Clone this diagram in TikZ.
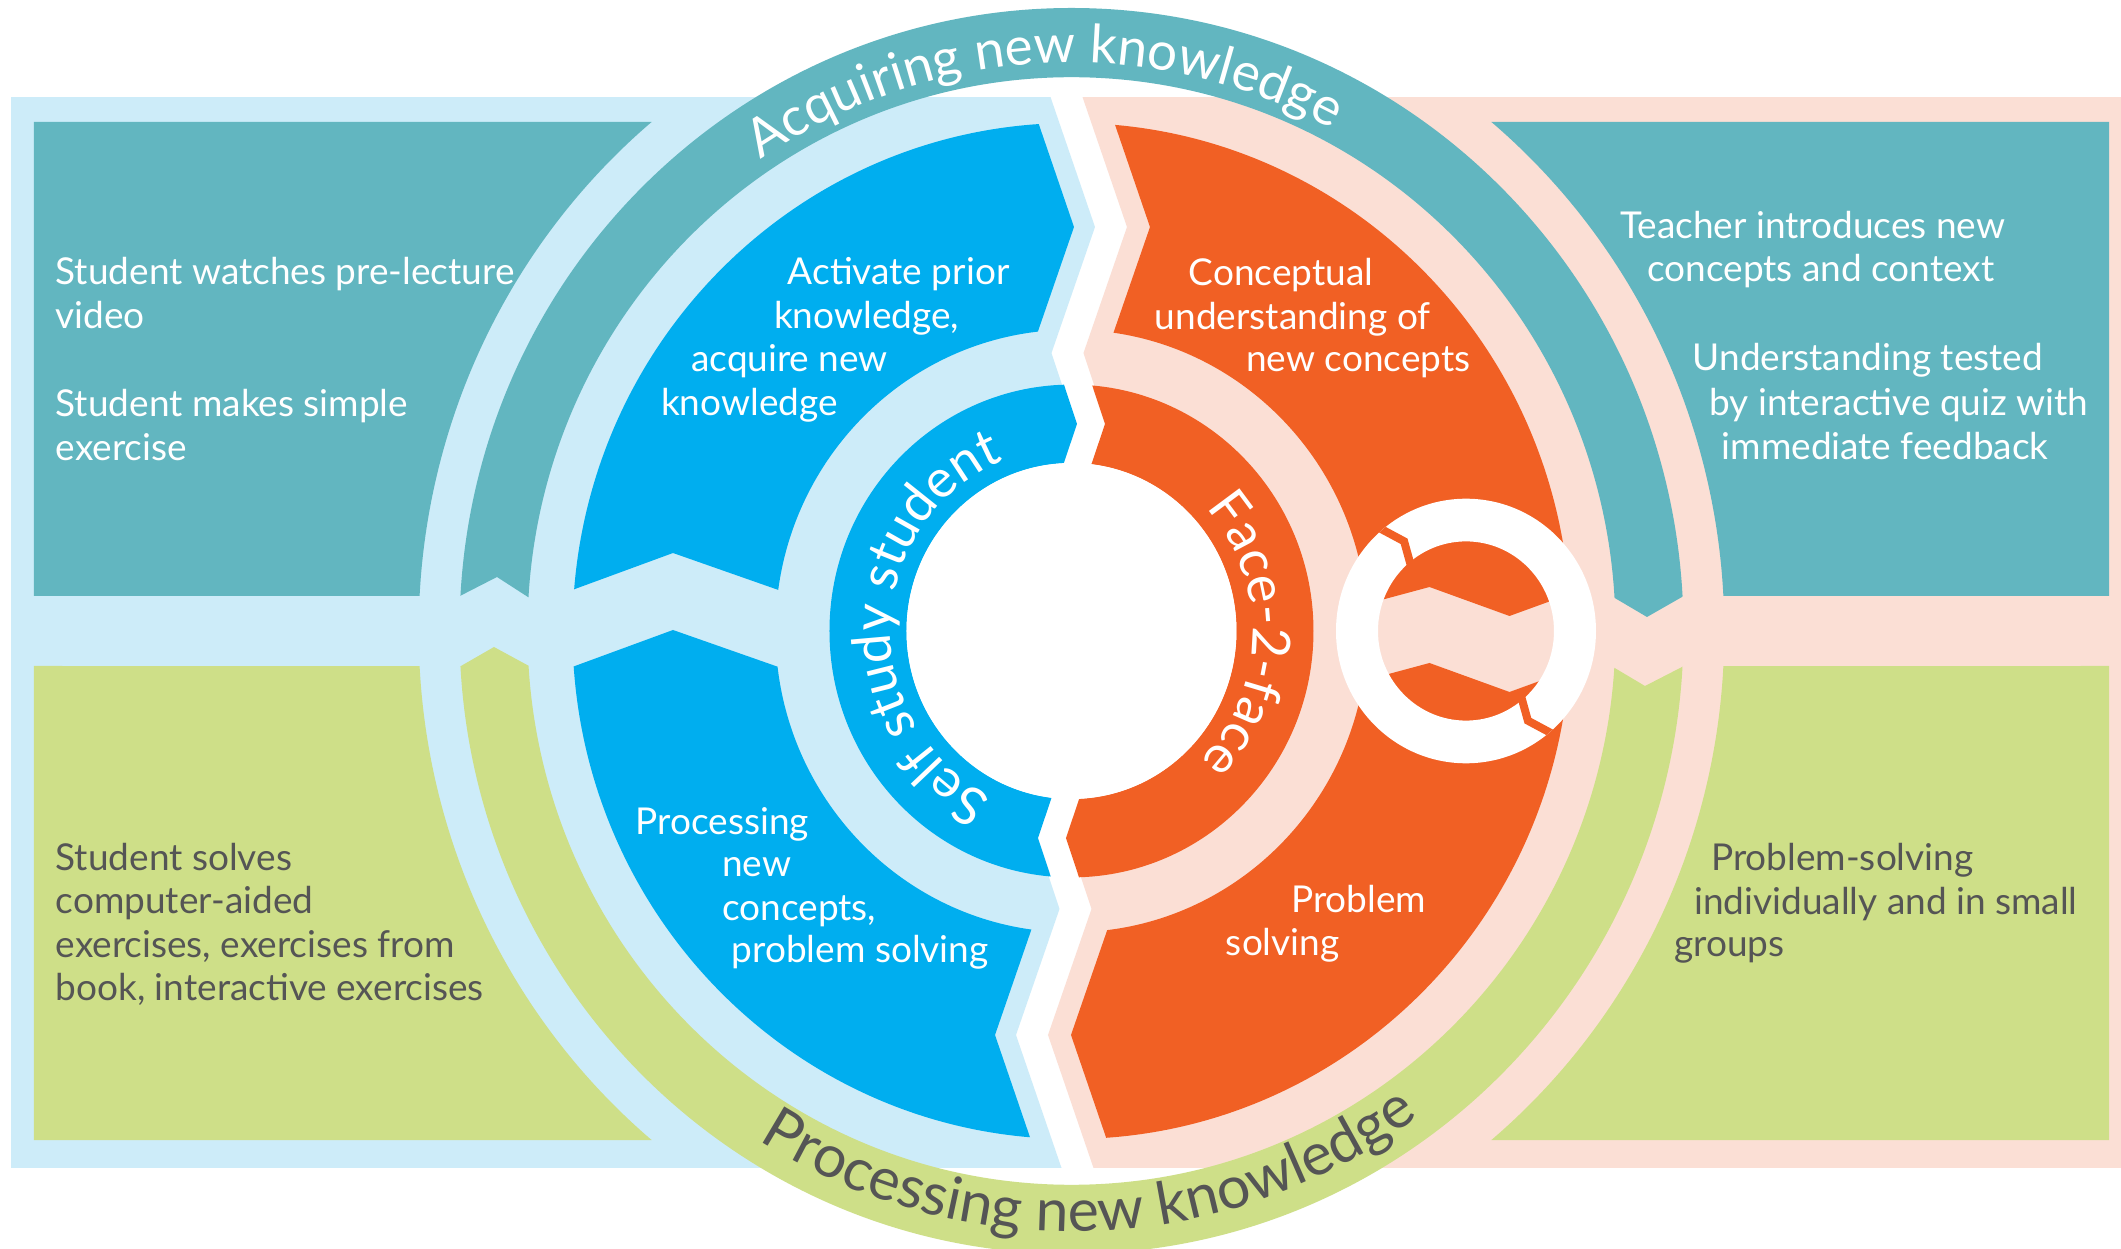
\documentclass[tikz,border=0pt]{standalone}
\usepackage{fontspec}
\setmainfont{Lato}
\newfontfamily\bodyfont{Lato}
\usetikzlibrary{decorations.text}
\definecolor{lblue}{RGB}{205,236,249}
\definecolor{lpink}{RGB}{251,223,213}
\definecolor{cteal}{RGB}{98,182,192}
\definecolor{cgreen}{RGB}{206,223,136}
\definecolor{cblue}{RGB}{0,174,239}
\definecolor{corange}{RGB}{241,96,36}
\definecolor{dgray}{RGB}{85,85,85}
\newcommand\ringfont{\bodyfont\fontsize{53}{58}\selectfont}
\newcommand\ringfontB{\bodyfont\fontsize{59}{64}\selectfont}
\newcommand\innerfont{\bodyfont\fontsize{53}{57}\selectfont}
\begin{document}
\begin{tikzpicture}[x=1pt,y=1pt,
  wtxt/.style={font=\bodyfont\fontsize{37}{44}\selectfont, text=white, inner sep=0pt, anchor=base west},
  gtxt/.style={wtxt, text=dgray},
  innertxt/.style={decorate, decoration={text along path, text={|\innerfont|#1}, text align=center, text color=white}}]
\def\zc{(-13.9,560) -- (-5,534) -- (39.5,404) -- (-4,278) -- (19.5,207) -- (6,167) -- (-6,-167) -- (-19.5,-207) -- (4,-278) -- (-39.5,-404) -- (5,-534) -- (13.9,-560)}
\useasboundingbox (-1071.5,-618) rectangle (1049.5,631);
\clip (-1071.5,-618) rectangle (1049.5,631);
\fill[white] (-1071.5,-618) rectangle (1049.5,631);
% panels
\begin{scope}
  \clip[xshift=-16pt] (-1200,560) -- \zc -- (-1200,-560) -- cycle;
  \fill[lblue] (-1060.5,-536.5) rectangle (100,534);
\end{scope}
\begin{scope}
  \clip[xshift=16pt] (1200,560) -- \zc -- (1200,-560) -- cycle;
  \fill[lpink] (-100,-536.5) rectangle (1049.5,534);
\end{scope}
% boxes
\fill[cteal] (-1037.5,509) -- (-419.9,509) arc[start angle=130.04, end angle=176.98, x radius=653, y radius=664.8] -- (-1037.5,35) -- cycle;
\fill[cteal] (1037.5,509) -- (419.9,509) arc[start angle=49.96, end angle=3.02, x radius=653, y radius=664.8] -- (1037.5,35) -- cycle;
\fill[cgreen] (-1037.5,-509) -- (-419.9,-509) arc[start angle=229.96, end angle=183.02, x radius=653, y radius=664.8] -- (-1037.5,-35) -- cycle;
\fill[cgreen] (1037.5,-509) -- (419.9,-509) arc[start angle=310.04, end angle=356.98, x radius=653, y radius=664.8] -- (1037.5,-35) -- cycle;
% outer rings
\begin{scope}
  \clip (-650,15.3) -- (-574.5,54) -- (-520,18.8) -- (520,46.7) -- (575.5,14) -- (650,56.6) -- (650,700) -- (-650,700) -- cycle;
  \fill[cteal, even odd rule] (0,0) ellipse[x radius=612, y radius=623] (0,0) ellipse[x radius=544, y radius=553.8];
\end{scope}
\begin{scope}
  \clip (-650,-57.7) -- (-577.5,-16) -- (-520,-47.2) -- (520,-23.2) -- (573.5,-55) -- (650,-15.7) -- (650,-700) -- (-650,-700) -- cycle;
  \fill[cgreen, even odd rule] (0,0) ellipse[x radius=612, y radius=623] (0,0) ellipse[x radius=544, y radius=553.8];
\end{scope}
% big blue segments
\begin{scope}
  \clip[xshift=-37pt] (-1200,560) -- \zc -- (-1200,-560) -- cycle;
  \begin{scope}
    \clip (-560,18.7) -- (-398.5,78) -- (-240,22.4) -- (600,22.4) -- (600,600) -- (-560,600) -- cycle;
    \fill[cblue, even odd rule] (0,0) ellipse[x radius=499, y radius=508] (0,0) ellipse[x radius=296, y radius=301.3];
  \end{scope}
  \begin{scope}
    \clip (-560,-58.3) -- (-398.5,1) -- (-240,-54.6) -- (600,-54.6) -- (600,-600) -- (-560,-600) -- cycle;
    \fill[cblue, even odd rule] (0,0) ellipse[x radius=499, y radius=508] (0,0) ellipse[x radius=296, y radius=301.3];
  \end{scope}
\end{scope}
% big orange segments
\begin{scope}
  \clip[xshift=39pt] (1200,560) -- \zc -- (1200,-560) -- cycle;
  \begin{scope}
    \clip (-600,23) -- (280,23) -- (358,44) -- (438,15) -- (530,48.5) -- (530,600) -- (-600,600) -- cycle;
    \fill[corange, even odd rule] (0,0) ellipse[x radius=499, y radius=508] (0,0) ellipse[x radius=296, y radius=301.3];
  \end{scope}
  \begin{scope}
    \clip (-600,-53) -- (280,-53) -- (358,-32) -- (438,-61) -- (530,-27.5) -- (530,-600) -- (-600,-600) -- cycle;
    \fill[corange, even odd rule] (0,0) ellipse[x radius=499, y radius=508] (0,0) ellipse[x radius=296, y radius=301.3];
  \end{scope}
\end{scope}
% inner rings
\begin{scope}
  \clip[xshift=-14pt] (-1200,560) -- \zc -- (-1200,-560) -- cycle;
  \fill[cblue, even odd rule] (0,0) ellipse[x radius=242, y radius=246.4] (0,0) ellipse[x radius=165, y radius=168];
\end{scope}
\begin{scope}
  \clip[xshift=14pt] (1200,560) -- \zc -- (1200,-560) -- cycle;
  \fill[corange, even odd rule] (0,0) ellipse[x radius=242, y radius=246.4] (0,0) ellipse[x radius=165, y radius=168];
\end{scope}
\fill[white] (0,0) ellipse[x radius=165, y radius=168];
% cycle icon
\fill[white, even odd rule] (394.5,0) ellipse[x radius=130, y radius=132.3] (394.5,0) ellipse[x radius=88, y radius=89.6];
\begin{scope}
  \clip (394.5,0) ellipse[x radius=130, y radius=132.3];
  \draw[corange, line width=8pt, line join=miter] (302.7,105.7) -- (332.6,89.7) -- (339.8,63.8);
  \draw[corange, line width=8pt, line join=miter] (486.3,-105.7) -- (456.4,-89.7) -- (449.2,-63.8);
\end{scope}
% curved labels
\path[decorate, decoration={text along path, text={|\ringfont|Acquiring new knowledge}, text align=center, text color=white}] (153:558 and 568) arc[start angle=153, end angle=33, x radius=558, y radius=568];
\path[decorate, decoration={text along path, text={|\ringfontB|Processing new knowledge}, text align=center, text color=dgray}] (207:590 and 600.6) arc[start angle=207, end angle=337, x radius=590, y radius=600.6];
\path[innertxt={Self study student}] (265:181 and 184.3) arc[start angle=265, end angle=91, x radius=181, y radius=184.3];
\path[innertxt={Face-2-face}] (75:181 and 184.3) arc[start angle=75, end angle=-78, x radius=181, y radius=184.3];
% left teal box
\node[wtxt] (lt1) at (-1016,346.5) {Student watches pre-lecture};
\node[wtxt] (lt2) at (-1016,302.5) {video};
\node[wtxt] (lt3) at (-1016,214) {Student makes simple};
\node[wtxt] (lt4) at (-1016,170) {exercise};
% upper blue
\node[wtxt] (ub1) at (-283.8,346.5) {Activate prior};
\node[wtxt] (ub2) at (-297.5,302.4) {knowledge,};
\node[wtxt] (ub3) at (-380.5,259) {acquire new};
\node[wtxt] (ub4) at (-410.5,215) {knowledge};
% upper orange
\node[wtxt] (uo1) at (117,345.3) {Conceptual};
\node[wtxt] (uo2) at (83.2,301) {understanding of};
\node[wtxt] (uo3) at (174.5,259) {new concepts};
% right teal box
\node[wtxt] (rt1) at (548.5,392) {Teacher introduces new};
\node[wtxt] (rt2) at (575.5,349) {concepts and context};
\node[wtxt] (rt3) at (621,260) {Understanding tested};
\node[wtxt] (rt4) at (638,215.5) {by interactive quiz with};
\node[wtxt] (rt5) at (650,171) {immediate feedback};
% lower blue
\node[wtxt] (lb1) at (-436,-203.6) {Processing};
\node[wtxt] (lb2) at (-349.5,-245.7) {new};
\node[wtxt] (lb3) at (-349.5,-290) {concepts,};
\node[wtxt] (lb4) at (-340,-332) {problem solving};
% lower orange
\node[wtxt] (lo1) at (219.5,-282) {Problem};
\node[wtxt] (lo2) at (154.3,-325) {solving};
% left green box
\node[gtxt] (lg1) at (-1016,-240) {Student solves};
\node[gtxt] (lg2) at (-1016,-283) {computer-aided};
\node[gtxt] (lg3) at (-1016,-327) {exercises, exercises from};
\node[gtxt] (lg4) at (-1016,-370) {book, interactive exercises};
% right green box
\node[gtxt] (rg1) at (639.5,-239.7) {Problem-solving};
\node[gtxt] (rg2) at (622.5,-283.8) {individually and in small};
\node[gtxt] (rg3) at (602.5,-326) {groups};
\end{tikzpicture}
\end{document}
